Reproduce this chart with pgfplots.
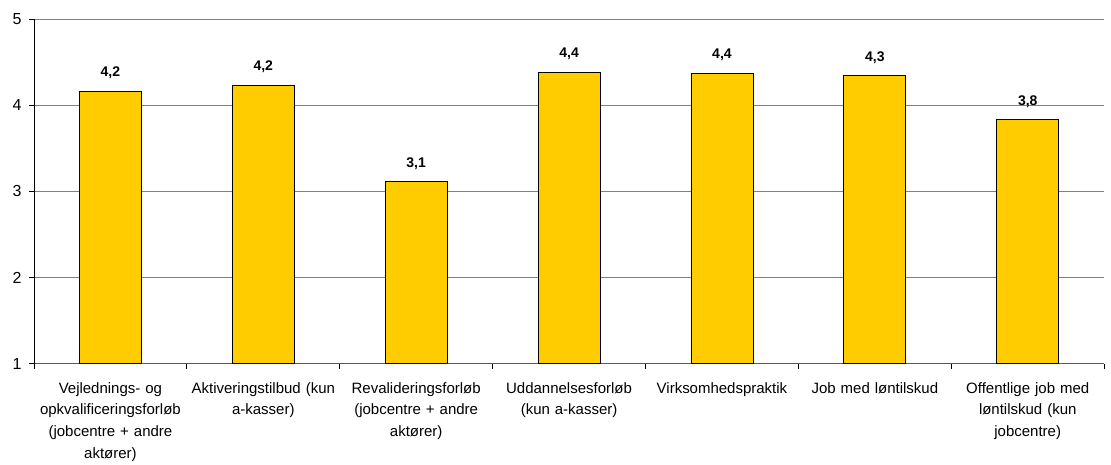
\documentclass[border=0pt]{standalone}
\usepackage{pgfplots}
\pgfplotsset{compat=1.18}
\usepackage{fontspec}
\setmainfont{Liberation Sans}
\definecolor{baryellow}{HTML}{FFCC00}
\definecolor{gridgray}{HTML}{808080}
\begin{document}
\begin{tikzpicture}
\begin{axis}[
  scale only axis,
  width=1071pt, height=345pt,
  xmin=-0.5, xmax=6.5,
  ymin=1, ymax=5,
  ytick={1,2,3,4,5},
  ymajorgrids,
  grid style={gridgray, line width=0.8pt},
  axis x line*=bottom,
  axis y line*=left,
  x axis line style={draw=gridgray!70!black, line width=0.8pt, -},
  y axis line style={draw=black, line width=0.8pt, -},
  xtick={0,...,6},
  xticklabels={{Vejlednings- og\\opkvalificeringsforløb\\(jobcentre + andre\\aktører)},
               {Aktiveringstilbud (kun\\a-kasser)},
               {Revalideringsforløb\\(jobcentre + andre\\aktører)},
               {Uddannelsesforløb\\(kun a-kasser)},
               {Virksomhedspraktik},
               {Job med løntilskud},
               {Offentlige job med\\løntilskud (kun\\jobcentre)}},
  major x tick style={draw=none},
  minor xtick={-0.5,0.5,...,6.5},
  minor x tick style={draw=black, line width=0.8pt},
  y tick style={draw=black, line width=0.8pt},
  tick align=outside,
  major tick length=5pt,
  minor tick length=5pt,
  xticklabel style={font=\fontsize{15}{21.7}\selectfont, text width=160pt, align=center, anchor=north, yshift=-10pt},
  yticklabel style={font=\fontsize{16}{18}\selectfont, xshift=-4pt},
  /pgf/number format/assume math mode=true,
  ybar,
  bar width=62pt,
  nodes near coords,
  nodes near coords style={font=\fontsize{14}{16}\selectfont\bfseries, anchor=base, yshift=14.5pt, inner sep=0pt,
     /pgf/number format/.cd, fixed, zerofill, precision=1, use comma, assume math mode=true},
]
\addplot[fill=baryellow, draw=black, line width=0.8pt] coordinates {
  (0,4.16) (1,4.23) (2,3.11) (3,4.38) (4,4.37) (5,4.34) (6,3.83)
};
\end{axis}
\path[use as bounding box] (-34pt,-99pt) rectangle (1077pt,364pt);
\end{tikzpicture}
\end{document}
